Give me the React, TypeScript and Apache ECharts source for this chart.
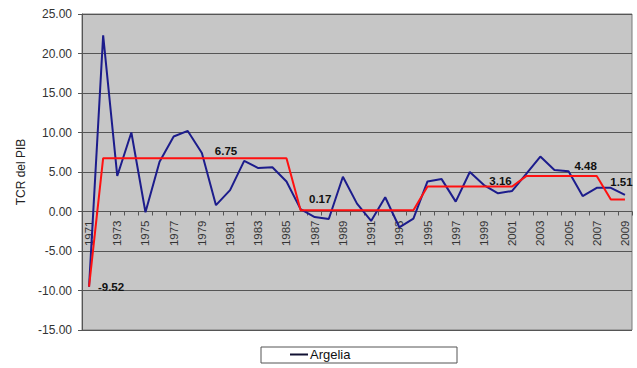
import React, { useEffect, useRef } from "react";
import * as echarts from "echarts";

const years: string[] = [
  "1971", "1972", "1973", "1974", "1975", "1976", "1977", "1978", "1979", "1980",
  "1981", "1982", "1983", "1984", "1985", "1986", "1987", "1988", "1989", "1990",
  "1991", "1992", "1993", "1994", "1995", "1996", "1997", "1998", "1999", "2000",
  "2001", "2002", "2003", "2004", "2005", "2006", "2007", "2008", "2009",
];

const argelia: number[] = [
  -9.52, 22.3, 4.5, 10.0, -0.1, 6.3, 9.5, 10.2, 7.4, 0.8,
  2.7, 6.4, 5.5, 5.6, 3.8, 0.3, -0.7, -0.95, 4.4, 1.0,
  -1.2, 1.8, -2.0, -0.9, 3.8, 4.1, 1.25, 5.0, 3.35, 2.3,
  2.6, 4.75, 6.95, 5.25, 5.1, 1.95, 3.0, 3.0, 2.1,
];

const promedio: number[] = [
  -9.52, 6.75, 6.75, 6.75, 6.75, 6.75, 6.75, 6.75, 6.75, 6.75,
  6.75, 6.75, 6.75, 6.75, 6.75, 0.17, 0.17, 0.17, 0.17, 0.17,
  0.17, 0.17, 0.17, 0.17, 3.16, 3.16, 3.16, 3.16, 3.16, 3.16,
  3.16, 4.48, 4.48, 4.48, 4.48, 4.48, 4.48, 1.51, 1.51,
];

const yTicks = { min: -15, max: 25, interval: 5 };

export default function App() {
  const ref = useRef<HTMLDivElement>(null);

  useEffect(() => {
    if (!ref.current) return;
    const chart = echarts.init(ref.current, null, { renderer: "svg" });

    const gridTop = 14;
    const gridBottom = 38;
    const gridHeight = 368 - gridTop - gridBottom;
    // distance from the bottom of the plot to the value 0, derived from the y scale
    const zeroFromBottom = (gridHeight * (0 - yTicks.min)) / (yTicks.max - yTicks.min);

    // label placement relative to the labelled point (centre of text)
    const labelCfg: Record<number, number[]> = {
      0: [22, 0],
      9: [10, -7],
      16: [5.5, -11],
      29: [2.5, -5.5],
      35: [3, -10.5],
      38: [-3.5, -17.5],
    };

    const redData = promedio.map((v, i) => {
      const c = labelCfg[i];
      if (!c) return { value: v };
      return {
        value: v,
        label: {
          show: true,
          position: c,
          align: "center",
          verticalAlign: "middle",
          formatter: (p: any) => Number(p.value).toFixed(2),
          color: "#111",
          fontWeight: "bold",
          fontSize: 11.5,
          fontFamily: "Liberation Sans",
        },
      };
    });

    chart.setOption({
      animation: false,
      backgroundColor: "#ffffff",
      textStyle: { fontFamily: "Liberation Sans" },
      grid: {
        left: 82,
        top: gridTop,
        right: 5,
        bottom: gridBottom,
        show: true,
        backgroundColor: "#c6c6c6",
        borderColor: "#7a7a7a",
        borderWidth: 1,
      },
      legend: {
        left: 290,
        top: 348,
        padding: 0,
        itemWidth: 18,
        itemHeight: 2,
        itemGap: 4,
        data: [{ name: "Argelia", icon: "rect", itemStyle: { color: "#111133" } }],
        textStyle: { fontSize: 13, color: "#111", fontFamily: "Liberation Sans", padding: [0, 0, 0, -3] },
        selectedMode: false,
      },
      graphic: [
        {
          type: "rect",
          shape: { x: 261, y: 347, width: 196, height: 16 },
          style: { fill: "#ffffff", stroke: "#555555", lineWidth: 1 },
          z: -1,
          silent: true,
        },
      ],
      xAxis: {
        type: "category",
        data: years,
        boundaryGap: true,
        position: "bottom",
        offset: -zeroFromBottom,
        axisLine: { onZero: false, lineStyle: { color: "#555555", width: 1 } },
        axisTick: { show: true, interval: 0, length: 4, lineStyle: { color: "#555555" } },
        axisLabel: {
          interval: 1,
          rotate: 90,
          fontSize: 11.5,
          color: "#333",
          margin: 9,
          fontFamily: "Liberation Sans",
        },
        splitLine: { show: false },
      },
      yAxis: {
        type: "value",
        min: yTicks.min,
        max: yTicks.max,
        interval: yTicks.interval,
        name: "TCR del PIB",
        nameLocation: "middle",
        nameGap: 55,
        nameTextStyle: { fontSize: 12, color: "#222", fontFamily: "Liberation Sans" },
        axisLine: { show: true, onZero: false, lineStyle: { color: "#555555" } },
        axisTick: { show: true, length: 4, lineStyle: { color: "#555555" } },
        axisLabel: {
          formatter: (v: number) => v.toFixed(2),
          fontSize: 12,
          color: "#333",
          margin: 10,
          fontFamily: "Liberation Sans",
        },
        splitLine: { show: true, lineStyle: { color: "#555555", width: 1 } },
      },
      series: [
        {
          name: "Argelia",
          type: "line",
          data: argelia,
          symbol: "none",
          lineStyle: { color: "#1c1c8c", width: 2 },
          itemStyle: { color: "#1c1c8c" },
          z: 3,
        },
        {
          name: "Promedio",
          type: "line",
          data: redData,
          symbol: "circle",
          symbolSize: 0,
          showSymbol: true,
          lineStyle: { color: "#ff1010", width: 2 },
          itemStyle: { color: "#ff1010" },
          label: { show: false },
          labelLayout: { hideOverlap: false },
          z: 4,
        },
      ],
    });

    return () => chart.dispose();
  }, []);

  return (
    <div
      ref={ref}
      style={{ position: "absolute", left: 0, top: 0, width: 637, height: 368 }}
    />
  );
}
